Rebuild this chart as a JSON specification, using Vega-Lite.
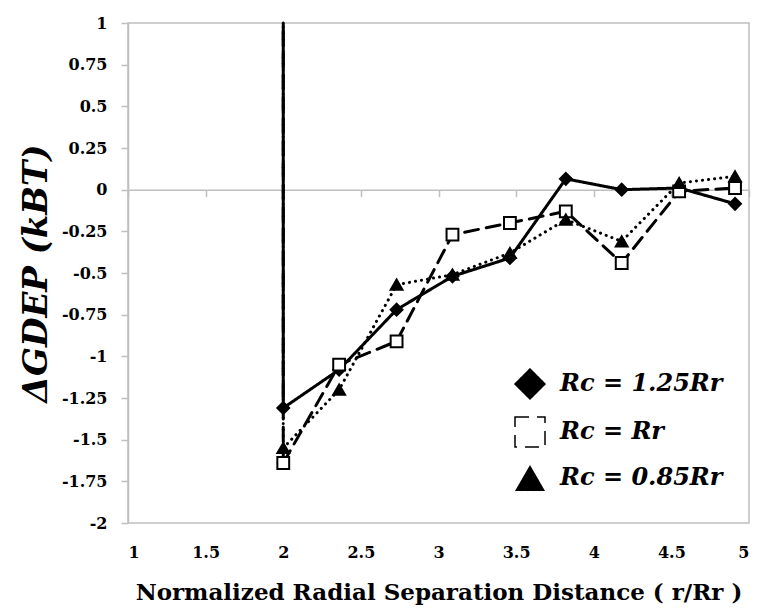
{
  "$schema": "https://vega.github.io/schema/vega-lite/v6.json",
  "width": 621,
  "height": 500,
  "autosize": {"type": "none"},
  "padding": {"left": 128, "top": 23, "right": 9, "bottom": 90},
  "background": "white",
  "config": {
    "view": {"stroke": "#bfbfbf", "strokeWidth": 1.5},
    "axis": {
      "grid": false,
      "domainColor": "#bfbfbf",
      "domainWidth": 1.5,
      "tickColor": "#bfbfbf",
      "tickWidth": 1.5,
      "tickSize": 7,
      "labelFont": "DejaVu Serif",
      "labelFontSize": 16,
      "labelFontWeight": "bold",
      "labelColor": "black",
      "titleFont": "DejaVu Serif",
      "titleFontWeight": "bold",
      "titleColor": "black"
    },
    "legend": {
      "title": null,
      "orient": "none",
      "legendX": 386,
      "legendY": 345,
      "padding": 0,
      "rowPadding": 12,
      "symbolSize": 900,
      "labelOffset": 14,
      "labelLimit": 400,
      "labelFont": "DejaVu Serif",
      "labelFontSize": 24,
      "labelFontWeight": "bold",
      "labelFontStyle": "italic",
      "labelColor": "black",
      "labelBaseline": "middle"
    }
  },
  "datasets": {
    "series": [
      {"series": "Rc = 1.25Rr", "r": 2.0, "dG": -1.31},
      {"series": "Rc = 1.25Rr", "r": 2.36, "dG": -1.08},
      {"series": "Rc = 1.25Rr", "r": 2.73, "dG": -0.72},
      {"series": "Rc = 1.25Rr", "r": 3.09, "dG": -0.52},
      {"series": "Rc = 1.25Rr", "r": 3.46, "dG": -0.41},
      {"series": "Rc = 1.25Rr", "r": 3.82, "dG": 0.065},
      {"series": "Rc = 1.25Rr", "r": 4.18, "dG": 0.0},
      {"series": "Rc = 1.25Rr", "r": 4.55, "dG": 0.01},
      {"series": "Rc = 1.25Rr", "r": 4.91, "dG": -0.085},
      {"series": "Rc = Rr", "r": 2.0, "dG": -1.64},
      {"series": "Rc = Rr", "r": 2.36, "dG": -1.05},
      {"series": "Rc = Rr", "r": 2.73, "dG": -0.91},
      {"series": "Rc = Rr", "r": 3.09, "dG": -0.27},
      {"series": "Rc = Rr", "r": 3.46, "dG": -0.2},
      {"series": "Rc = Rr", "r": 3.82, "dG": -0.13},
      {"series": "Rc = Rr", "r": 4.18, "dG": -0.44},
      {"series": "Rc = Rr", "r": 4.55, "dG": -0.01},
      {"series": "Rc = Rr", "r": 4.91, "dG": 0.01},
      {"series": "Rc = 0.85Rr", "r": 2.0, "dG": -1.55},
      {"series": "Rc = 0.85Rr", "r": 2.36, "dG": -1.2},
      {"series": "Rc = 0.85Rr", "r": 2.73, "dG": -0.57},
      {"series": "Rc = 0.85Rr", "r": 3.09, "dG": -0.51},
      {"series": "Rc = 0.85Rr", "r": 3.46, "dG": -0.38},
      {"series": "Rc = 0.85Rr", "r": 3.82, "dG": -0.18},
      {"series": "Rc = 0.85Rr", "r": 4.18, "dG": -0.31},
      {"series": "Rc = 0.85Rr", "r": 4.55, "dG": 0.04},
      {"series": "Rc = 0.85Rr", "r": 4.91, "dG": 0.08}
    ],
    "vlines": [
      {"series": "Rc = Rr", "r": 2.0, "lo": -1.64, "hi": 1},
      {"series": "Rc = 0.85Rr", "r": 2.0, "lo": -1.55, "hi": 1},
      {"series": "Rc = 1.25Rr", "r": 2.0, "lo": -1.31, "hi": 1}
    ]
  },
  "layer": [
    {
      "data": {"name": "vlines"},
      "mark": {"type": "rule", "color": "black", "strokeWidth": 3, "strokeCap": "round"},
      "encoding": {
        "x": {
          "field": "r", "type": "quantitative",
          "scale": {"domain": [1, 5], "nice": false, "zero": false},
          "axis": {
            "orient": "bottom",
            "offset": -333.33,
            "values": [1, 1.5, 2, 2.5, 3, 3.5, 4, 4.5, 5],
            "labelExpr": "'' + datum.value",
            "labelPadding": 348,
            "title": "Normalized Radial Separation Distance  ( r/Rr )",
            "titleFontSize": 23,
            "titleY": 403,
            "titleBaseline": "middle"
          }
        },
        "y": {
          "field": "lo", "type": "quantitative",
          "scale": {"domain": [-2, 1], "nice": false, "zero": false},
          "axis": {
            "values": [-2, -1.75, -1.5, -1.25, -1, -0.75, -0.5, -0.25, 0, 0.25, 0.5, 0.75, 1],
            "labelExpr": "'' + datum.value",
            "labelPadding": 14,
            "title": "ΔGDEP  (kBT)",
            "titleFontSize": 34,
            "titleFontStyle": "italic",
            "titlePadding": 8
          }
        },
        "y2": {"field": "hi"},
        "strokeDash": {
          "field": "series", "type": "nominal",
          "scale": {"domain": ["Rc = 1.25Rr", "Rc = Rr", "Rc = 0.85Rr"], "range": [[1, 0], [14, 8], [0.1, 6]]}
        }
      }
    },
    {
      "data": {"name": "series"},
      "mark": {"type": "line", "color": "black", "strokeWidth": 3, "strokeCap": "round"},
      "encoding": {
        "x": {"field": "r", "type": "quantitative"},
        "y": {"field": "dG", "type": "quantitative"},
        "strokeDash": {"field": "series", "type": "nominal"}
      }
    },
    {
      "data": {"name": "series"},
      "mark": {"type": "point", "filled": true, "stroke": "black", "strokeWidth": 2, "opacity": 1, "size": 140},
      "encoding": {
        "x": {"field": "r", "type": "quantitative"},
        "y": {"field": "dG", "type": "quantitative"},
        "fill": {
          "field": "series", "type": "nominal",
          "scale": {"domain": ["Rc = 1.25Rr", "Rc = Rr", "Rc = 0.85Rr"], "range": ["black", "white", "black"]}
        },
        "shape": {
          "field": "series", "type": "nominal",
          "scale": {"domain": ["Rc = 1.25Rr", "Rc = Rr", "Rc = 0.85Rr"], "range": ["diamond", "square", "triangle-up"]}
        }
      }
    }
  ]
}
